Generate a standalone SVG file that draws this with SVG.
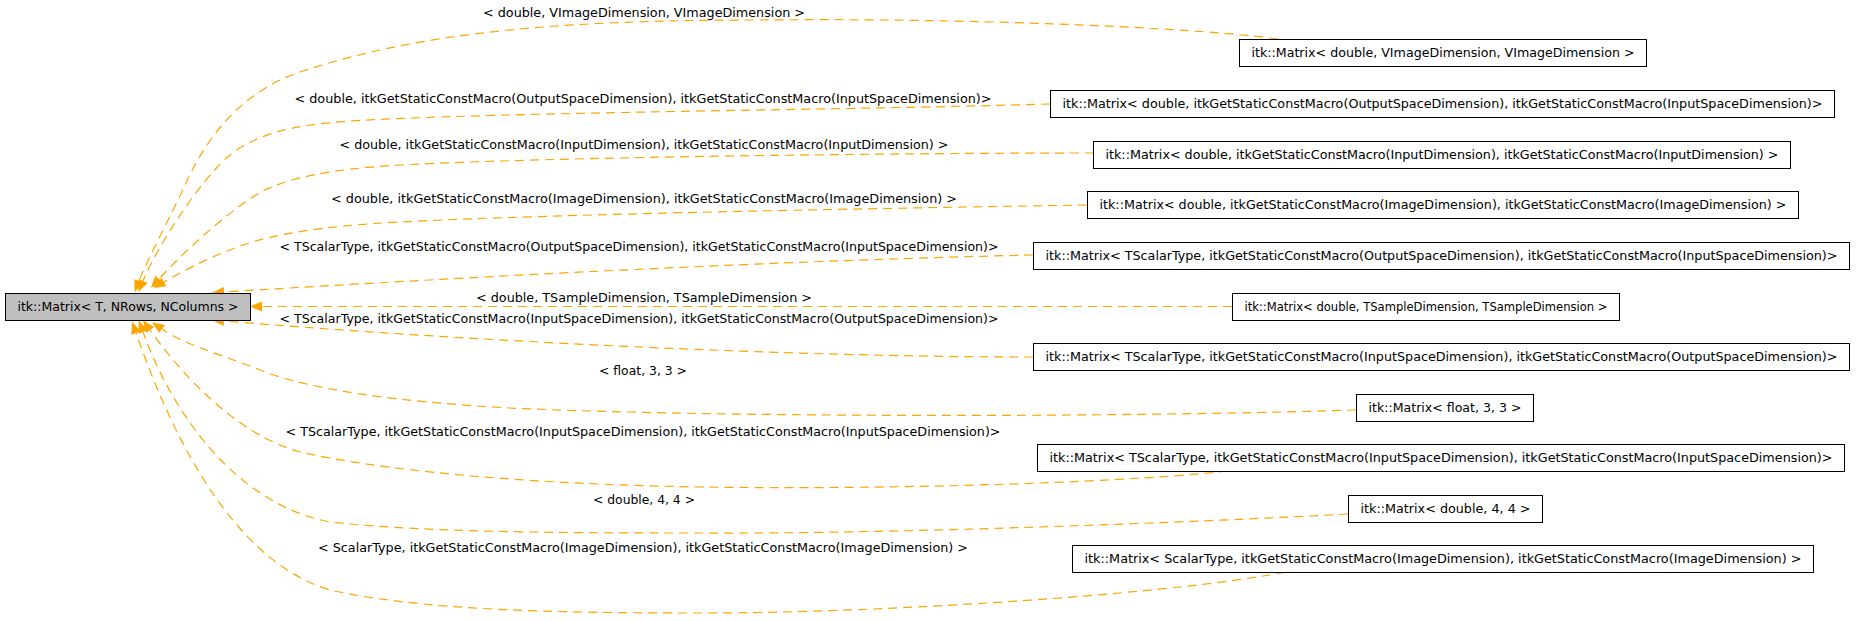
<svg xmlns="http://www.w3.org/2000/svg" width="1856" height="621" viewBox="0 0 1856 621">
<style>
.n rect{fill:#ffffff;stroke:#000000;stroke-width:1}
#base rect{fill:#bfbfbf;stroke:#000000;stroke-width:1}
text{font-family:"DejaVu Sans","Liberation Sans",sans-serif;font-size:12px;fill:#000000;text-anchor:middle}
.e{fill:none;stroke:#ffa500;stroke-width:1.2;stroke-dasharray:9,6;marker-end:url(#ah)}
</style>
<defs>
<marker id="ah" markerUnits="userSpaceOnUse" markerWidth="12" markerHeight="10" viewBox="0 0 12 10" refX="0" refY="5" orient="auto" overflow="visible">
<path d="M0,0 L12,5 L0,10 z" fill="#ffa500"/>
</marker>
</defs>
<rect width="1856" height="621" fill="#ffffff"/>
<g id="connectors">
<path class="e" d="M1278,39 C1180,26 950,18 760,20 C560,20 420,32 300,72 C240,92 205,140 185,185 C172,214 148,258 139,281"/>
<path class="e" d="M1050,104 C850,110 500,112 350,121 C290,125 255,135 230,155 C205,175 160,240 143,281"/>
<path class="e" d="M1094,153 C900,153 550,157 400,165 C330,169 290,178 265,190 C240,202 190,245 159,279"/>
<path class="e" d="M1087,205 C900,208 550,214 400,222 C320,226 270,235 240,246 C210,257 185,270 164,282"/>
<path class="e" d="M1033,255 C800,260 480,276 224,292"/>
<path class="e" d="M1232,306.5 L262,306.5"/>
<path class="e" d="M1033,357 C800,357 480,342 224,321"/>
<path class="e" d="M1356,410 C1100,418 700,417 510,408 C400,402 310,390 260,370 C220,354 185,345 162,329"/>
<path class="e" d="M1243,469 C1150,482 900,490 700,487 C520,484 380,470 300,452 C255,440 200,400 150,330"/>
<path class="e" d="M1348,514 C1200,522 900,534 700,533 C550,533 420,532 330,522 C240,505 175,420 143,332"/>
<path class="e" d="M1300,569 C1200,592 900,613 700,613 C550,613 420,610 330,590 C230,560 170,430 136,333"/>
<text x="644" y="17" textLength="322" lengthAdjust="spacingAndGlyphs">&lt; double, VImageDimension, VImageDimension &gt;</text>
<text x="643" y="103" textLength="697" lengthAdjust="spacingAndGlyphs">&lt; double, itkGetStaticConstMacro(OutputSpaceDimension), itkGetStaticConstMacro(InputSpaceDimension)&gt;</text>
<text x="644" y="149" textLength="609" lengthAdjust="spacingAndGlyphs">&lt; double, itkGetStaticConstMacro(InputDimension), itkGetStaticConstMacro(InputDimension) &gt;</text>
<text x="644" y="203" textLength="626" lengthAdjust="spacingAndGlyphs">&lt; double, itkGetStaticConstMacro(ImageDimension), itkGetStaticConstMacro(ImageDimension) &gt;</text>
<text x="639" y="251" textLength="719" lengthAdjust="spacingAndGlyphs">&lt; TScalarType, itkGetStaticConstMacro(OutputSpaceDimension), itkGetStaticConstMacro(InputSpaceDimension)&gt;</text>
<text x="644" y="302" textLength="336" lengthAdjust="spacingAndGlyphs">&lt; double, TSampleDimension, TSampleDimension &gt;</text>
<text x="639" y="323" textLength="719" lengthAdjust="spacingAndGlyphs">&lt; TScalarType, itkGetStaticConstMacro(InputSpaceDimension), itkGetStaticConstMacro(OutputSpaceDimension)&gt;</text>
<text x="643" y="375" textLength="88" lengthAdjust="spacingAndGlyphs">&lt; float, 3, 3 &gt;</text>
<text x="643" y="436" textLength="715" lengthAdjust="spacingAndGlyphs">&lt; TScalarType, itkGetStaticConstMacro(InputSpaceDimension), itkGetStaticConstMacro(InputSpaceDimension)&gt;</text>
<text x="644" y="504" textLength="102" lengthAdjust="spacingAndGlyphs">&lt; double, 4, 4 &gt;</text>
<text x="643" y="552" textLength="650" lengthAdjust="spacingAndGlyphs">&lt; ScalarType, itkGetStaticConstMacro(ImageDimension), itkGetStaticConstMacro(ImageDimension) &gt;</text>
</g>
<g id="base"><rect x="5.5" y="293.5" width="245" height="27"/><text x="128" y="311" textLength="221" lengthAdjust="spacingAndGlyphs">itk::Matrix&lt; T, NRows, NColumns &gt;</text></g>
<g id="n1" class="n"><rect x="1239.5" y="39.5" width="407" height="27"/><text x="1443" y="57" textLength="383" lengthAdjust="spacingAndGlyphs">itk::Matrix&lt; double, VImageDimension, VImageDimension &gt;</text></g>
<g id="n2" class="n"><rect x="1050.5" y="90.5" width="784" height="27"/><text x="1442.5" y="108" textLength="760" lengthAdjust="spacingAndGlyphs">itk::Matrix&lt; double, itkGetStaticConstMacro(OutputSpaceDimension), itkGetStaticConstMacro(InputSpaceDimension)&gt;</text></g>
<g id="n3" class="n"><rect x="1093.5" y="141.5" width="697" height="27"/><text x="1442" y="159" textLength="673" lengthAdjust="spacingAndGlyphs">itk::Matrix&lt; double, itkGetStaticConstMacro(InputDimension), itkGetStaticConstMacro(InputDimension) &gt;</text></g>
<g id="n4" class="n"><rect x="1087.5" y="191.5" width="711" height="27"/><text x="1443" y="209" textLength="687" lengthAdjust="spacingAndGlyphs">itk::Matrix&lt; double, itkGetStaticConstMacro(ImageDimension), itkGetStaticConstMacro(ImageDimension) &gt;</text></g>
<g id="n5" class="n"><rect x="1033.5" y="242.5" width="816" height="27"/><text x="1441.5" y="260" textLength="792" lengthAdjust="spacingAndGlyphs">itk::Matrix&lt; TScalarType, itkGetStaticConstMacro(OutputSpaceDimension), itkGetStaticConstMacro(InputSpaceDimension)&gt;</text></g>
<g id="n6" class="n"><rect x="1232.5" y="293.5" width="387" height="27"/><text x="1426" y="311" textLength="363" lengthAdjust="spacingAndGlyphs">itk::Matrix&lt; double, TSampleDimension, TSampleDimension &gt;</text></g>
<g id="n7" class="n"><rect x="1033.5" y="343.5" width="816" height="27"/><text x="1441.5" y="361" textLength="792" lengthAdjust="spacingAndGlyphs">itk::Matrix&lt; TScalarType, itkGetStaticConstMacro(InputSpaceDimension), itkGetStaticConstMacro(OutputSpaceDimension)&gt;</text></g>
<g id="n8" class="n"><rect x="1356.5" y="394.5" width="177" height="27"/><text x="1445" y="412" textLength="153" lengthAdjust="spacingAndGlyphs">itk::Matrix&lt; float, 3, 3 &gt;</text></g>
<g id="n9" class="n"><rect x="1037.5" y="444.5" width="807" height="27"/><text x="1441" y="462" textLength="783" lengthAdjust="spacingAndGlyphs">itk::Matrix&lt; TScalarType, itkGetStaticConstMacro(InputSpaceDimension), itkGetStaticConstMacro(InputSpaceDimension)&gt;</text></g>
<g id="n10" class="n"><rect x="1348.5" y="495.5" width="194" height="27"/><text x="1445.5" y="513" textLength="170" lengthAdjust="spacingAndGlyphs">itk::Matrix&lt; double, 4, 4 &gt;</text></g>
<g id="n11" class="n"><rect x="1072.5" y="545.5" width="741" height="27"/><text x="1443" y="563" textLength="717" lengthAdjust="spacingAndGlyphs">itk::Matrix&lt; ScalarType, itkGetStaticConstMacro(ImageDimension), itkGetStaticConstMacro(ImageDimension) &gt;</text></g>
</svg>
